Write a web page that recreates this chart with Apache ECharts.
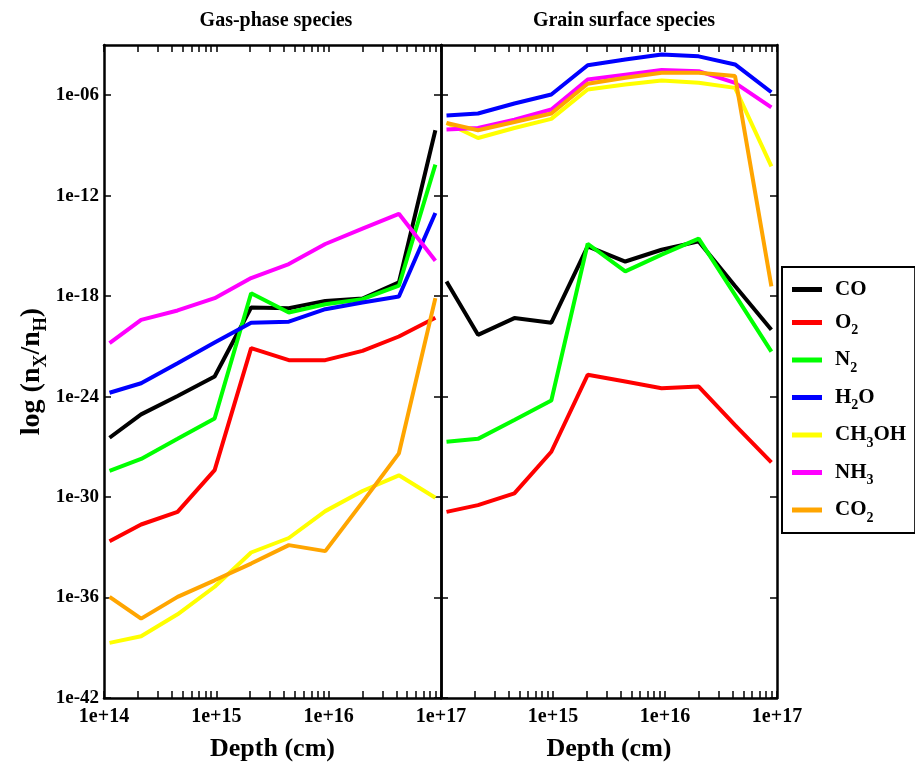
<!DOCTYPE html>
<html>
<head>
<meta charset="utf-8">
<script src="https://cdn.jsdelivr.net/npm/echarts@6/dist/echarts.min.js"></script>
<style>
html,body{margin:0;padding:0;background:#fff;}
#chart{width:915px;height:769px;}
</style>
</head>
<body>
<div id="chart"></div>
<script>
// ---- data ----
const depth = [1.12e14, 2.14e14, 4.52e14, 9.66e14, 2.04e15, 4.42e15, 9.33e15, 2.0e16, 4.22e16, 8.91e16];

const speciesNames = ['CO', 'O2', 'N2', 'H2O', 'CH3OH', 'NH3', 'CO2'];
const speciesColors = ['#000000', '#ff0000', '#00ff00', '#0000ff', '#ffff00', '#ff00ff', '#ffa500'];

// Gas-phase species (n_X/n_H)
const gasCO    = [3.5e-27, 8.7e-26, 1.1e-24, 1.6e-23, 2.1e-19, 1.9e-19, 5.2e-19, 7.2e-19, 6.6e-18, 8.1e-9];
const gasO2    = [2.3e-33, 2.3e-32, 1.3e-31, 4.1e-29, 7.8e-22, 1.5e-22, 1.5e-22, 5.4e-22, 3.9e-21, 5.2e-20];
const gasN2    = [3.7e-29, 1.9e-28, 3.0e-27, 5.0e-26, 1.5e-18, 1.05e-19, 3.3e-19, 6.6e-19, 4.2e-18, 7.2e-11];
const gasH2O   = [1.7e-24, 6.3e-24, 1.0e-22, 1.7e-21, 2.6e-20, 3.0e-20, 1.66e-19, 4.2e-19, 9.5e-19, 9.3e-14];
const gasCH3OH = [1.95e-39, 4.9e-39, 1.0e-37, 4.4e-36, 4.9e-34, 3.6e-33, 1.45e-31, 2.3e-30, 2.0e-29, 9.1e-31];
const gasNH3   = [1.55e-21, 3.8e-20, 1.4e-19, 7.6e-19, 1.2e-17, 8.3e-17, 1.3e-15, 1.07e-14, 8.3e-14, 1.3e-16];
const gasCO2   = [1.1e-36, 5.5e-38, 1.1e-36, 1.07e-35, 1.07e-34, 1.35e-33, 5.9e-34, 5.0e-31, 4.1e-28, 7.6e-19];

// Grain surface species (n_X/n_H)
const grCO     = [7.6e-18, 4.9e-21, 4.9e-20, 2.6e-20, 9.3e-16, 1.17e-16, 5.9e-16, 1.86e-15, 4.0e-18, 9.8e-21];
const grO2     = [1.3e-31, 3.3e-31, 1.66e-30, 5.1e-28, 2.0e-23, 7.9e-24, 3.2e-24, 4.0e-24, 2.0e-26, 1.17e-28];
const grN2     = [2.0e-27, 3.0e-27, 4.0e-26, 5.8e-25, 1.35e-15, 3.0e-17, 3.0e-16, 2.7e-15, 1.2e-18, 4.9e-22];
const grH2O    = [6.2e-8, 8.1e-8, 3.2e-7, 1.1e-6, 6.2e-5, 1.35e-4, 2.7e-4, 2.1e-4, 6.9e-5, 1.5e-6];
const grCH3OH  = [2.2e-8, 2.8e-9, 1.1e-8, 3.9e-8, 2.2e-6, 4.4e-6, 7.6e-6, 5.5e-6, 2.75e-6, 5.6e-11];
const grNH3    = [8.9e-9, 1.1e-8, 3.5e-8, 1.4e-7, 8.7e-6, 1.7e-5, 3.2e-5, 2.75e-5, 5.5e-6, 1.9e-7];
const grCO2    = [2.2e-8, 8.1e-9, 2.5e-8, 8.1e-8, 4.8e-6, 1.1e-5, 2.2e-5, 2.2e-5, 1.4e-5, 3.8e-18];

const gasSets = [gasCO, gasO2, gasN2, gasH2O, gasCH3OH, gasNH3, gasCO2];
const grainSets = [grCO, grO2, grN2, grH2O, grCH3OH, grNH3, grCO2];

// ticks / labels
const xMajor = [1e14, 1e15, 1e16, 1e17];
const xTickLabels = ['1e+14', '1e+15', '1e+16', '1e+17'];
const yMajor = [1e-42, 1e-36, 1e-30, 1e-24, 1e-18, 1e-12, 1e-6];
const yTickLabels = ['1e-42', '1e-36', '1e-30', '1e-24', '1e-18', '1e-12', '1e-06'];
const panelTitles = ['Gas-phase species', 'Grain surface species'];

// minor tick positions (2..9 x each decade)
const xTicksAll = [];
for (let d = 0; d < xMajor.length - 1; d++) {
  for (let m = 1; m < 10; m++) xTicksAll.push(xMajor[d] * m);
}
xTicksAll.push(xMajor[xMajor.length - 1]);

const FONT = '"Liberation Serif", "Times New Roman", serif';

function nearestLabel(v, vals, labels) {
  const lv = Math.log10(v);
  let best = 0, bd = Infinity;
  vals.forEach((t, i) => { const d = Math.abs(Math.log10(t) - lv); if (d < bd) { bd = d; best = i; } });
  return bd < 0.01 ? labels[best] : '';
}

const axisLineStyle = { color: '#000', width: 2.5 };
const tickStyle = { color: '#000', width: 1.5 };

function xAxisDef(grid, pos, labelVals) {
  return {
    type: 'log', logBase: 10, gridIndex: grid, position: pos,
    min: 1e14, max: 1e17,
    axisLine: { show: true, onZero: false, lineStyle: axisLineStyle },
    axisTick: { show: true, inside: true, length: 7, lineStyle: tickStyle, customValues: xTicksAll },
    axisLabel: labelVals ? {
      show: true, customValues: labelVals, margin: 9,
      fontFamily: FONT, fontWeight: 'bold', fontSize: 20, color: '#000',
      formatter: v => nearestLabel(v, xMajor, xTickLabels)
    } : { show: false },
    splitLine: { show: false },
    minorTick: { show: false },
    name: pos === 'bottom' ? 'Depth (cm)' : '',
    nameLocation: 'middle', nameGap: 38,
    nameTextStyle: { fontFamily: FONT, fontWeight: 'bold', fontSize: 26, color: '#000' }
  };
}

function yAxisDef(grid, pos, showLabels, withName) {
  return {
    type: 'log', logBase: 10, gridIndex: grid, position: pos,
    min: 1e-42, max: 1e-3,
    axisLine: { show: true, onZero: false, lineStyle: axisLineStyle },
    axisTick: { show: true, inside: true, length: 7, lineStyle: tickStyle, customValues: yMajor },
    axisLabel: showLabels ? {
      show: true, customValues: yMajor, margin: 5,
      fontFamily: FONT, fontWeight: 'bold', fontSize: 19, color: '#000',
      formatter: v => nearestLabel(v, yMajor, yTickLabels)
    } : { show: false },
    splitLine: { show: false },
    name: withName ? '{n|log (n}{s|X}{n|/n}{s|H}{n|)}' : '',
    nameLocation: 'middle', nameGap: 54, nameRotate: 90,
    nameTextStyle: {
      fontFamily: FONT, fontWeight: 'bold', fontSize: 28, color: '#000',
      rich: {
        n: { fontFamily: FONT, fontWeight: 'bold', fontSize: 28, lineHeight: 36, verticalAlign: 'middle', color: '#000' },
        s: { fontFamily: FONT, fontWeight: 'bold', fontSize: 18, lineHeight: 18, padding: [18, 0, 0, 0], verticalAlign: 'middle', color: '#000' }
      }
    }
  };
}

const series = [];
[gasSets, grainSets].forEach((sets, g) => {
  sets.forEach((vals, k) => {
    series.push({
      name: speciesNames[k],
      type: 'line',
      xAxisIndex: g * 2,
      yAxisIndex: g * 2,
      data: depth.map((d, i) => [d, vals[i]]),
      symbol: 'none',
      color: speciesColors[k],
      lineStyle: { width: 4, color: speciesColors[k] },
      clip: true,
      animation: false
    });
  });
});

function legendFmt(name) {
  const parts = name.match(/[A-Za-z]+|\d+/g);
  return parts.map((p, i) => {
    if (/\d/.test(p)) return '{s|' + p + '}';
    return (i === 0 ? '{f|' : '{n|') + p + '}';
  }).join('');
}

const option = {
  backgroundColor: '#fff',
  animation: false,
  grid: [
    { left: 104, top: 45, width: 337, height: 653 },
    { left: 441, top: 45, width: 336, height: 653 }
  ],
  xAxis: [
    xAxisDef(0, 'bottom', xMajor),
    xAxisDef(0, 'top', null),
    xAxisDef(1, 'bottom', xMajor.slice(1)),
    xAxisDef(1, 'top', null)
  ],
  yAxis: [
    yAxisDef(0, 'left', true, true),
    yAxisDef(0, 'right', false, false),
    yAxisDef(1, 'left', false, false),
    yAxisDef(1, 'right', false, false)
  ],
  legend: {
    orient: 'vertical',
    left: 782, top: 267,
    padding: [12, 9, 8, 10],
    itemGap: 7.5,
    itemWidth: 30, itemHeight: 5,
    icon: 'rect',
    borderColor: '#000', borderWidth: 2,
    backgroundColor: '#fff',
    data: speciesNames,
    formatter: legendFmt,
    selectedMode: false,
    textStyle: {
      fontFamily: FONT, fontWeight: 'bold', fontSize: 21, color: '#000',
      rich: {
        f: { fontFamily: FONT, fontWeight: 'bold', fontSize: 21, lineHeight: 30, verticalAlign: 'middle', padding: [0, 0, 0, 8], color: '#000' },
        n: { fontFamily: FONT, fontWeight: 'bold', fontSize: 21, lineHeight: 30, verticalAlign: 'middle', color: '#000' },
        s: { fontFamily: FONT, fontWeight: 'bold', fontSize: 14, lineHeight: 14, padding: [16, 0, 0, 0], verticalAlign: 'middle', color: '#000' }
      }
    }
  },
  graphic: [
    { type: 'text', x: 276, y: 21, style: { text: panelTitles[0], font: 'bold 20px ' + FONT, fill: '#000', align: 'center', verticalAlign: 'middle' } },
    { type: 'text', x: 624, y: 21, style: { text: panelTitles[1], font: 'bold 20px ' + FONT, fill: '#000', align: 'center', verticalAlign: 'middle' } }
  ],
  series: series
};

const chart = echarts.init(document.getElementById('chart'), null, { renderer: 'canvas' });
chart.setOption(option);
</script>
</body>
</html>
